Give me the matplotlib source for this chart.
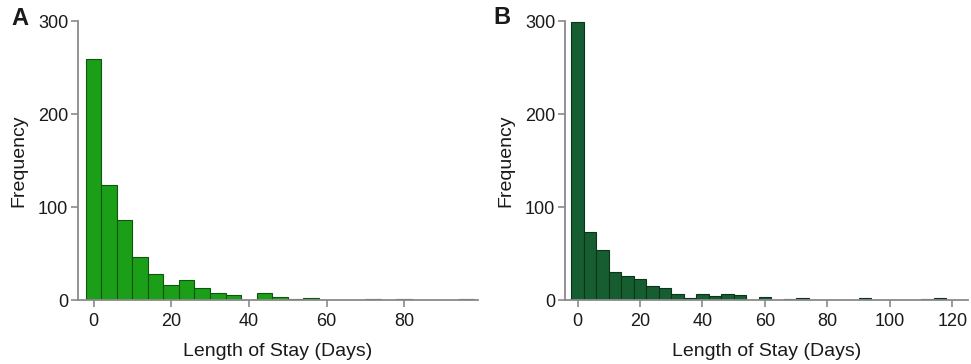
import numpy as np
import matplotlib
matplotlib.use("Agg")
import matplotlib.pyplot as plt

plt.rcParams['font.family'] = ['Liberation Sans', 'DejaVu Sans']

# histogram bin centres (4-day bins) and counts
bins_a = list(range(0, 100, 4))
counts_a = [259, 124, 86, 46, 28, 16, 21, 13, 8, 5, 0, 7, 3, 1, 2,
            0, 0, 0, 1, 0, 1, 0, 0, 0, 1]

bins_b = list(range(0, 120, 4))
counts_b = [299, 73, 54, 30, 26, 23, 15, 13, 6, 2, 6, 4, 6, 5, 0,
            3, 0, 1, 2, 0, 0, 0, 0, 2, 0, 0, 0, 0, 1, 2]

xticks_a = [0, 20, 40, 60, 80]
xticks_b = [0, 20, 40, 60, 80, 100, 120]
yticks = [0, 100, 200, 300]

axis_col = '#8a8a8a'
text_col = '#1a1a1a'

fig = plt.figure(figsize=(9.71, 3.64), dpi=100)
ax_a = fig.add_axes([0.0803, 0.1758, 0.4120, 0.7665])
ax_b = fig.add_axes([0.5819, 0.1758, 0.4150, 0.7665])


def style(ax, xticks, xlim):
    ax.set_xlim(*xlim)
    ax.set_ylim(0, 300)
    ax.set_xticks(xticks)
    ax.set_yticks(yticks)
    for s in ['top', 'right']:
        ax.spines[s].set_visible(False)
    for s in ['left', 'bottom']:
        ax.spines[s].set_color(axis_col)
        ax.spines[s].set_linewidth(1.3)
    ax.tick_params(axis='both', direction='out', length=5, width=1.2,
                   color=axis_col, labelcolor=text_col, labelsize=13)
    ax.tick_params(axis='x', pad=4)
    ax.tick_params(axis='y', pad=2)
    ax.set_xlabel('Length of Stay (Days)', fontsize=14, color=text_col, labelpad=10)
    ax.set_ylabel('Frequency', fontsize=14, color=text_col, labelpad=8)


ax_a.bar(bins_a, counts_a, width=4, color='#1c9f18', edgecolor='#0d560b',
         linewidth=0.8, zorder=2)
style(ax_a, xticks_a, (-4, 99))

ax_b.bar(bins_b, counts_b, width=4, color='#165e31', edgecolor='#0a3519',
         linewidth=0.8, zorder=2)
style(ax_b, xticks_b, (-4, 125))

fig.text(0.012, 0.93, 'A', fontsize=17, fontweight='bold', color=text_col)
fig.text(0.508, 0.935, 'B', fontsize=17, fontweight='bold', color=text_col)

fig.savefig('out.png', dpi=100)
